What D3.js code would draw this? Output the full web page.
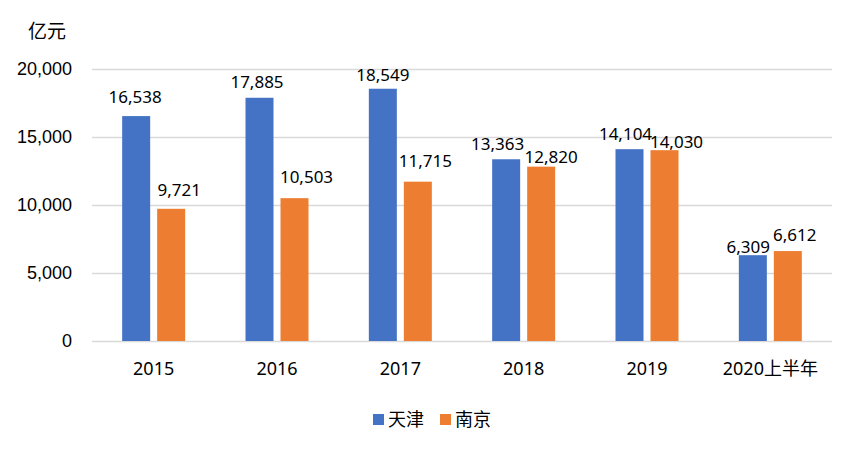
<!DOCTYPE html>
<html>
<head>
<meta charset="utf-8">
<script src="https://cdn.jsdelivr.net/npm/d3@7"></script>
<style>
  html, body { margin: 0; padding: 0; background: #fff; }
  svg { display: block; font-family: "Noto Sans", "Noto Sans CJK SC", sans-serif; }
</style>
</head>
<body>
<svg id="chart" width="858" height="450"></svg>
<script>
// ---- data ----
const categories = ["2015", "2016", "2017", "2018", "2019", "2020上半年"];
const seriesNames = ["天津", "南京"];
const tianjin = [16538, 17885, 18549, 13363, 14104, 6309];
const nanjing = [9721, 10503, 11715, 12820, 14030, 6612];
const yTicks = [0, 5000, 10000, 15000, 20000];
const unitLabel = "亿元";
// label nudges (dx, extra gap) to mimic the original label placement
const nudgeTianjin = [[-1, 4], [-2.5, 1], [0, -1], [-8.5, 0], [-4, 0], [-4.5, -7]];
const nudgeNanjing = [[8, 4], [12, 6], [7.5, 6], [10, -5], [12, -7], [7, 1]];

// ---- layout ----
const W = 858, H = 450;
const margin = { top: 69, right: 26, bottom: 109, left: 92 };
const colors = ["#4472C4", "#ED7D31"];

const svg = d3.select("#chart");

const x0 = d3.scaleBand().domain(categories)
  .range([margin.left, W - margin.right]).padding(0);
const groupW = 63;
const x1 = d3.scaleBand().domain(seriesNames)
  .range([(x0.bandwidth() - groupW) / 2, (x0.bandwidth() + groupW) / 2])
  .paddingInner(0.2).paddingOuter(0);
const y = d3.scaleLinear().domain([0, 20000]).range([H - margin.bottom, margin.top]);

const fmt = d3.format(",");

// gridlines
const yAxis = d3.axisLeft(y).tickValues(yTicks).tickFormat(fmt)
  .tickSize(-(W - margin.left - margin.right)).tickPadding(20);
const gy = svg.append("g").attr("transform", `translate(${margin.left},0)`).call(yAxis);
gy.select(".domain").remove();
gy.selectAll(".tick line").attr("stroke", "#d9d9d9").attr("stroke-width", 1.3);
gy.selectAll(".tick text").attr("font-size", 18).attr("fill", "#000").attr("x", -20);

// unit label
svg.append("text").attr("x", 28).attr("y", 38).attr("font-size", 19).attr("fill", "#000")
  .attr("font-family", "'Noto Sans CJK SC', sans-serif").text(unitLabel);

// x labels
const xAxis = d3.axisBottom(x0).tickSize(0).tickPadding(20);
const gx = svg.append("g").attr("transform", `translate(0,${H - margin.bottom})`).call(xAxis);
gx.select(".domain").remove();
gx.selectAll(".tick text").attr("font-size", 18).attr("fill", "#000")
  .attr("font-family", "'Noto Sans', 'Noto Sans CJK SC', sans-serif")
  .attr("y", 0).attr("dy", 34);

// bars
const series = [tianjin, nanjing];
const nudges = [nudgeTianjin, nudgeNanjing];
series.forEach((vals, si) => {
  const g = svg.append("g");
  g.selectAll("rect").data(vals).join("rect")
    .attr("x", (d, i) => x0(categories[i]) + x1(seriesNames[si]))
    .attr("y", d => y(d))
    .attr("width", x1.bandwidth())
    .attr("height", d => y(0) - y(d))
    .attr("fill", colors[si]);
  g.selectAll("text").data(vals).join("text")
    .attr("x", (d, i) => x0(categories[i]) + x1(seriesNames[si]) + x1.bandwidth() / 2 + nudges[si][i][0])
    .attr("y", (d, i) => y(d) - 9 - nudges[si][i][1])
    .attr("text-anchor", "middle")
    .attr("font-size", 17)
    .attr("fill", "#000")
    .text(d => fmt(d));
});

// legend
const legend = svg.append("g");
const legendX = [373, 440];
seriesNames.forEach((name, i) => {
  legend.append("rect").attr("x", legendX[i]).attr("y", 414).attr("width", 11).attr("height", 11).attr("fill", colors[i]);
  legend.append("text").attr("x", legendX[i] + 15).attr("y", 426).attr("font-size", 18).attr("fill", "#000")
    .attr("font-family", "'Noto Sans CJK SC', sans-serif").text(name);
});
</script>
</body>
</html>
